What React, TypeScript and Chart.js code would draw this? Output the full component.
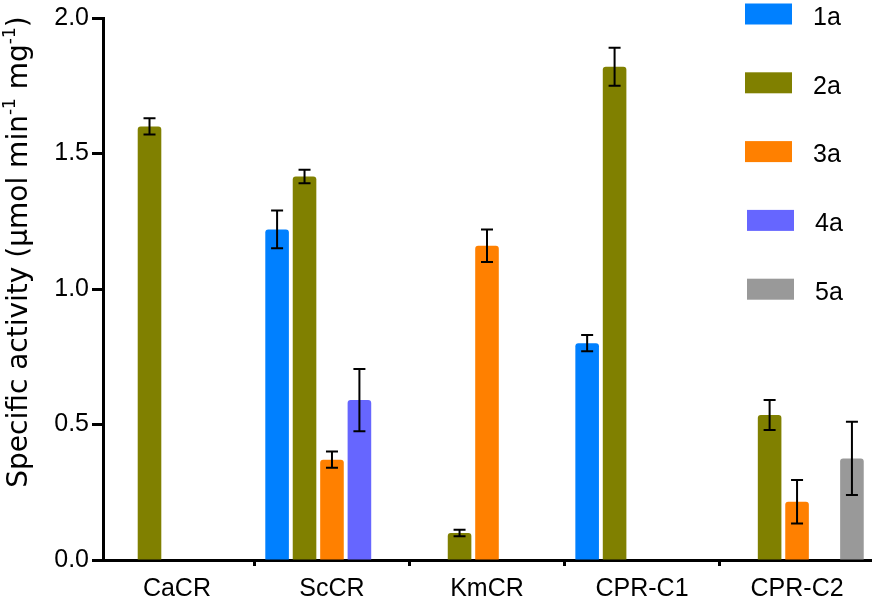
import React, { useEffect, useRef } from 'react';
import { Chart, registerables } from 'chart.js';

Chart.register(...registerables);

// ---- data ----
const categories = ['CaCR', 'ScCR', 'KmCR', 'CPR-C1', 'CPR-C2'];
const seriesLabels = ['1a', '2a', '3a', '4a', '5a'];
const seriesColors = ['#0080FF', '#808000', '#FF8000', '#6666FF', '#999999'];

const values1a = [null, 1.22, null, 0.8, null];
const values2a = [1.6, 1.415, 0.1, 1.82, 0.535];
const values3a = [null, 0.37, 1.16, null, 0.215];
const values4a = [null, 0.59, null, null, null];
const values5a = [null, null, null, null, 0.375];

const errors1a = [null, 0.07, null, 0.03, null];
const errors2a = [0.03, 0.025, 0.012, 0.07, 0.055];
const errors3a = [null, 0.03, 0.06, null, 0.08];
const errors4a = [null, 0.115, null, null, null];
const errors5a = [null, null, null, null, 0.135];

const yTickValues = [0, 0.5, 1.0, 1.5, 2.0];
const yTitleParts = [
  { text: 'Specific activity (\u03bcmol min', sup: false },
  { text: '-1', sup: true },
  { text: ' mg', sup: false },
  { text: '-1', sup: true },
  { text: ')', sup: false },
];

const allValues = [values1a, values2a, values3a, values4a, values5a];
const allErrors = [errors1a, errors2a, errors3a, errors4a, errors5a];

const FONT = '"Liberation Sans", Arial, Helvetica, sans-serif';
const TICK_SIZE = 25;

const errorBarPlugin = {
  id: 'errorBars',
  afterDatasetsDraw(chart: any) {
    const ctx = chart.ctx;
    const yScale = chart.scales.y;
    ctx.save();
    ctx.strokeStyle = '#000';
    ctx.lineWidth = 2;
    chart.data.datasets.forEach((ds: any, di: number) => {
      const meta = chart.getDatasetMeta(di);
      meta.data.forEach((el: any, i: number) => {
        const v = ds.data[i] && ds.data[i].y;
        const e = ds.errors[i];
        if (v == null || e == null) return;
        const x = el.x;
        const yt = yScale.getPixelForValue(v + e);
        const yb = yScale.getPixelForValue(v - e);
        ctx.beginPath();
        ctx.moveTo(x, yt);
        ctx.lineTo(x, yb);
        ctx.moveTo(x - 6, yt);
        ctx.lineTo(x + 6, yt);
        ctx.moveTo(x - 6, yb);
        ctx.lineTo(x + 6, yb);
        ctx.stroke();
      });
    });
    ctx.restore();
  },
};

const sideLegendPlugin = {
  id: 'sideLegend',
  afterDraw(chart: any) {
    const ctx = chart.ctx;
    ctx.save();
    chart.data.datasets.forEach((ds: any, i: number) => {
      const cy = 14 + i * 68.8;
      const bx = i >= 3 ? 747 : 745;
      ctx.fillStyle = ds.backgroundColor;
      ctx.fillRect(bx, cy - 10.5, 47, 21);
      ctx.fillStyle = '#000';
      ctx.font = `${TICK_SIZE}px ` + FONT;
      ctx.textBaseline = 'middle';
      ctx.textAlign = 'left';
      ctx.fillText(ds.label, bx + 68, cy + 4);
    });
    ctx.restore();
  },
};

const yTitlePlugin = {
  id: 'yTitle',
  afterDraw(chart: any) {
    const ctx = chart.ctx;
    const mainFont = '28px "DejaVu Sans", ' + FONT;
    const supFont = '17px "DejaVu Sans", ' + FONT;
    ctx.save();
    const widths = yTitleParts.map((p) => {
      ctx.font = p.sup ? supFont : mainFont;
      return ctx.measureText(p.text).width;
    });
    let total = 0;
    widths.forEach((w) => (total += w));
    ctx.translate(20, 252);
    ctx.rotate(-Math.PI / 2);
    ctx.fillStyle = '#000';
    ctx.textBaseline = 'middle';
    ctx.textAlign = 'left';
    let x = -total / 2;
    yTitleParts.forEach((p, i) => {
      ctx.font = p.sup ? supFont : mainFont;
      ctx.fillText(p.text, x, p.sup ? -9 : 0);
      x += widths[i];
    });
    ctx.restore();
  },
};

export default function App() {
  const canvasRef = useRef<HTMLCanvasElement | null>(null);

  useEffect(() => {
    document.body.style.margin = '0';
    const canvas = canvasRef.current;
    if (!canvas) return;

    const datasets = seriesLabels.map((label, si) => ({
      label,
      data: categories.map((_, ci) => ({ x: ci, y: allValues[si][ci] })),
      errors: allErrors[si],
      backgroundColor: seriesColors[si],
      borderWidth: 0,
      borderRadius: 3,
      categoryPercentage: 0.885,
      barPercentage: 0.86,
    }));

    const chart = new Chart(canvas, {
      type: 'bar',
      data: { datasets: datasets as any },
      options: {
        responsive: false,
        animation: false,
        layout: { padding: { top: 15, right: 3, left: 0, bottom: 0 } },
        plugins: {
          legend: { display: false },
          tooltip: { enabled: false },
          title: { display: false },
        },
        scales: {
          x: {
            type: 'linear',
            min: -0.477,
            max: 4.477,
            offset: false,
            z: 1,
            grid: {
              display: true,
              drawOnChartArea: false,
              drawTicks: true,
              tickLength: 6,
              tickWidth: 3,
              tickColor: '#000',
              color: '#000',
            },
            border: { display: true, color: '#000', width: 3 },
            ticks: {
              stepSize: 1,
              includeBounds: false,
              autoSkip: false,
              maxRotation: 0,
              minRotation: 0,
              padding: 8,
              color: '#000',
              font: { family: FONT, size: TICK_SIZE },
              callback: (v: any) => categories[v] ?? '',
            },
            afterFit: (scale: any) => {
              scale.height = 40;
            },
          },
          y: {
            type: 'linear',
            min: 0,
            max: 2,
            z: 1,
            grid: {
              display: true,
              drawOnChartArea: false,
              drawTicks: true,
              tickLength: 11,
              tickWidth: 3,
              tickColor: '#000',
              color: '#000',
            },
            border: { display: true, color: '#000', width: 3 },
            ticks: {
              stepSize: 0.5,
              padding: 3,
              color: '#000',
              font: { family: FONT, size: TICK_SIZE },
              callback: (v: any) => (yTickValues.includes(v) ? Number(v).toFixed(1) : ''),
            },
            afterFit: (scale: any) => {
              scale.width = 103;
            },
          },
        },
      },
      plugins: [errorBarPlugin, sideLegendPlugin, yTitlePlugin],
    } as any);

    return () => chart.destroy();
  }, []);

  return (
    <div style={{ width: 874, height: 600 }}>
      <canvas ref={canvasRef} width={874} height={600} />
    </div>
  );
}
